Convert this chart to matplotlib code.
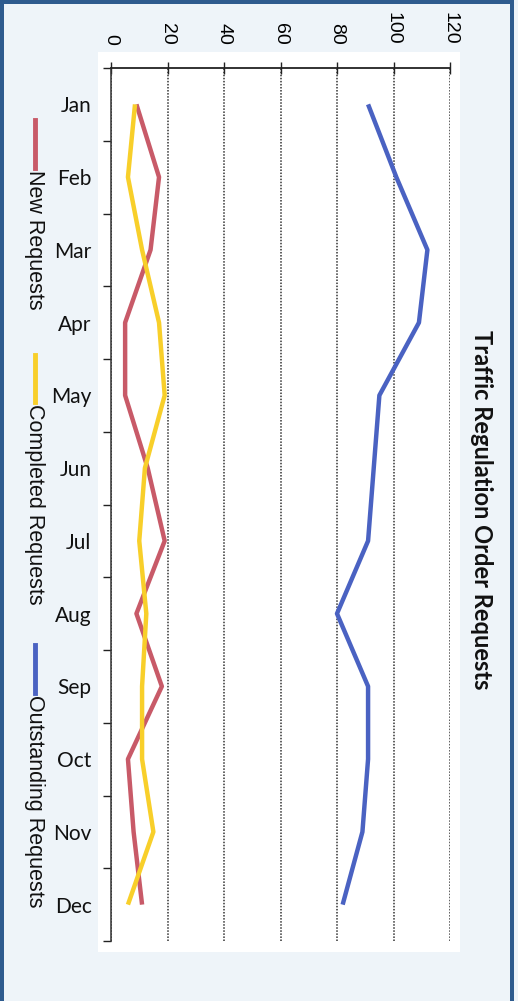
import numpy as np
import matplotlib.pyplot as plt
from matplotlib.lines import Line2D
from matplotlib.patches import Rectangle

months = ["Jan", "Feb", "Mar", "Apr", "May", "Jun",
          "Jul", "Aug", "Sep", "Oct", "Nov", "Dec"]
new_requests = [9, 17, 14, 5, 5, 13, 19, 9, 18, 6, 8, 11]
completed_requests = [8.5, 6, 11, 17, 19, 12, 10, 12.5, 11, 11, 15, 6]
outstanding_requests = [91, 101, 112, 109, 95, 93, 91, 80, 91, 91, 89, 82]
value_ticks = [0, 20, 40, 60, 80, 100, 120]

series = [
    ("New Requests", new_requests, "#c85a68"),
    ("Completed Requests", completed_requests, "#f8cf2a"),
    ("Outstanding Requests", outstanding_requests, "#4a62c2"),
]

W, H = 518, 1001
fig = plt.figure(figsize=(W / 100, H / 100), dpi=100)
fig.patch.set_facecolor("#eef4f9")

def fx(px):
    return px / W

def fy(py):
    return 1 - py / H

# white chart area behind the plot
fig.patches.append(Rectangle((fx(98), fy(952)), fx(362), (952 - 52) / H,
                             transform=fig.transFigure, facecolor="white",
                             edgecolor="none", zorder=0))

# border of the page
border = "#2e5b8e"
fig.patches.append(Rectangle((0, 0), fx(4), 1, transform=fig.transFigure,
                             facecolor=border, edgecolor="none", zorder=0))
fig.patches.append(Rectangle((0, fy(4)), fx(514), 4 / H, transform=fig.transFigure,
                             facecolor=border, edgecolor="none", zorder=0))
fig.patches.append(Rectangle((fx(510), 0), fx(4), 1, transform=fig.transFigure,
                             facecolor=border, edgecolor="none", zorder=0))

ax = fig.add_axes([fx(111), fy(941), fx(450 - 111), (941 - 68) / H])
ax.set_zorder(2)
ax.set_facecolor("white")

pos = np.arange(len(months))
for name, vals, col in series:
    ax.plot(vals, pos, color=col, lw=3.2, solid_capstyle="butt", zorder=3)

ax.set_xlim(0, 120)
ax.set_ylim(len(months) - 0.5, -0.5)

ax.xaxis.tick_top()
ax.set_xticks(value_ticks)
ax.set_xticklabels([str(v) for v in value_ticks], rotation=-90,
                   fontsize=14, family="Liberation Sans")
ax.tick_params(axis="x", direction="inout", length=9, width=1, color="#222",
               pad=12)

ax.set_yticks(pos)
ax.set_yticklabels(months, fontsize=15, family="Lato", color="#111")
ax.set_yticks(np.arange(-0.5, len(months), 1), minor=True)
ax.tick_params(axis="y", which="major", length=0, pad=14)
ax.tick_params(axis="y", which="minor", direction="out", length=6, width=1,
               color="#222")

ax.grid(axis="x", linestyle=(0, (1, 1)), color="#333", lw=1.1)
for s in ["right", "bottom"]:
    ax.spines[s].set_visible(False)
ax.spines["left"].set_linestyle((0, (1, 1)))
ax.spines["left"].set_color("#333")
ax.spines["left"].set_linewidth(1.1)
ax.spines["top"].set_color("#222")
ax.spines["top"].set_linewidth(1.3)

fig.text(fx(481), fy(510), "Traffic Regulation Order Requests", rotation=-90,
         ha="center", va="center", fontsize=17, fontweight="bold",
         family="Lato", color="#111")

# legend down the left edge
legend_rows = [(120, 168), (355, 402), (645, 693)]
for (name, vals, col), (y0, y1) in zip(series, legend_rows):
    fig.add_artist(Line2D([fx(35), fx(35)], [fy(y0), fy(y1)],
                          color=col, lw=3.5, transform=fig.transFigure))
    fig.text(fx(34), fy(y1 + 2), name, rotation=-90, ha="center", va="top",
             fontsize=15.5, family="Liberation Sans", color="#111")

fig.savefig("out.png", dpi=100, facecolor=fig.get_facecolor())
